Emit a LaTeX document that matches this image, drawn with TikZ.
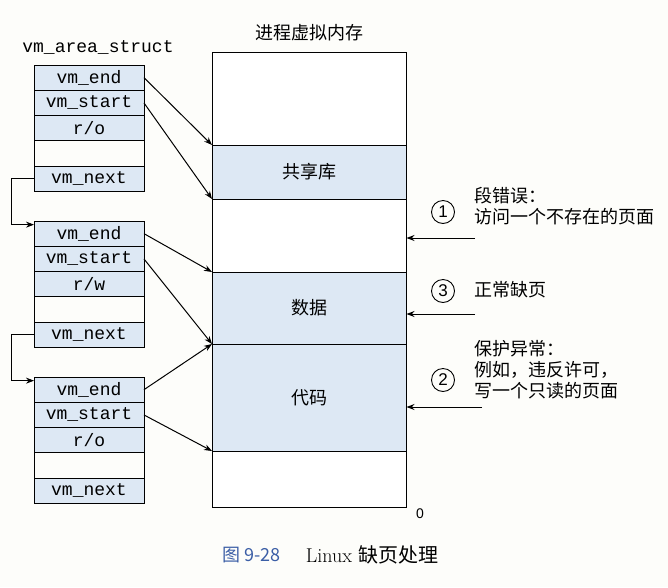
\documentclass[tikz,border=0pt]{standalone}
\usepackage{fontspec}
\setmonofont{Liberation Mono}
\setsansfont{Liberation Sans}
\newfontfamily\cjk{Noto Sans CJK SC}
\usetikzlibrary{positioning,arrows.meta}
\definecolor{rowblue}{HTML}{DDE8F4}
\definecolor{paper}{HTML}{FDFDFA}
\definecolor{capblue}{HTML}{3B5EA6}

\begin{document}
\begin{tikzpicture}[x=1pt,y=-1pt,
  structrow/.style={draw, line width=1pt, fill=rowblue, minimum width=110pt, minimum height=25.3pt,
    inner sep=0pt, outer sep=0pt, font=\ttfamily\fontsize{18}{18}\selectfont},
  blankrow/.style={structrow, fill=paper},
  memregion/.style={draw, line width=1pt, fill=rowblue, minimum width=194pt, inner sep=0pt,
    outer sep=0pt, font=\cjk\fontsize{18}{18}\selectfont},
  ptr/.style={-{Stealth[length=8pt,width=6pt]}, line width=1pt},
  circled/.style={circle, draw, line width=0.9pt, minimum size=23pt, inner sep=0pt,
    font=\sffamily\fontsize{17}{17}\selectfont},
  note/.style={anchor=west, align=left, font=\cjk\fontsize{18}{21}\selectfont}]

% Background and margins
\fill[paper] (0,0) rectangle (668,587);
\useasboundingbox (0,0) rectangle (668,587);

% vm_area_struct lists
\node[font=\ttfamily\fontsize{18}{18}\selectfont] (vmtitle) at (98,47) {vm\_area\_struct};
\foreach \s/\yt/\perm in {1/65/r\slash o,2/221/r\slash w,3/377/r\slash o}{
  \node[structrow] (s\s-end) at (89,\yt+12.65) {vm\_end};
  \node[structrow, below=0pt of s\s-end] (s\s-start) {vm\_start};
  \node[structrow, below=0pt of s\s-start] (s\s-perm) {\perm};
  \node[blankrow, below=0pt of s\s-perm] (s\s-blank) {};
  \node[structrow, below=0pt of s\s-blank] (s\s-next) {vm\_next};
}

% Process virtual memory
\node[draw, line width=1pt, fill=white, minimum width=194pt, minimum height=455pt, inner sep=0pt] (vmem) at (309,279.5) {};
\node[font=\cjk\fontsize{18}{18}\selectfont] (memtitle) at (309,33) {进程虚拟内存};
\node[memregion, minimum height=54pt] (shlib) at (309,172) {共享库};
\node[memregion, minimum height=72pt] (data) at (309,308) {数据};
\node[memregion, minimum height=107pt] (code) at (309,397.5) {代码};
\node[font=\sffamily\fontsize{14}{14}\selectfont] (zero) at (420,514) {0};

% Links between structs
\draw[ptr] (s1-next.west) -- ++(-23,0) |- ([yshift=9pt]s2-end.west);
\draw[ptr] (s2-next.west) -- ++(-23,0) |- ([yshift=9pt]s3-end.west);

% Area pointers
\draw[ptr] (s1-end.east) -- (shlib.north west);
\draw[ptr] (s1-start.east) -- (shlib.south west);
\draw[ptr] (s2-end.east) -- (data.north west);
\draw[ptr] (s2-start.east) -- (data.south west);
\draw[ptr] (s3-end.east) -- (code.north west);
\draw[ptr] (s3-start.east) -- (code.south west);

% Faults
\node[circled] (n1) at (443,212) {1};
\node[note] (t1) at (471,206) {段错误：\\访问一个不存在的页面};
\node[circled] (n3) at (443,291) {3};
\node[note] (t3) at (471,290) {正常缺页};
\node[circled] (n2) at (443,380) {2};
\node[note] (t2) at (471,370) {保护异常：\\例如，违反许可，\\写一个只读的页面};

\coordinate (f1) at (475,238);
\coordinate (f3) at (475,314);
\coordinate (f2) at (482,407);
\draw[ptr] (f1) -- (f1 -| vmem.east);
\draw[ptr] (f3) -- (f3 -| vmem.east);
\draw[ptr] (f2) -- (f2 -| vmem.east);

% Caption
\node[anchor=west, text=capblue, font=\cjk\fontsize{18}{18}\selectfont] (capnum) at (219,555) {图 9-28};
\node[right=18pt of capnum, font=\fontsize{20}{20}\selectfont] (captext) {Linux {\cjk 缺页处理}};

\end{tikzpicture}
\end{document}
